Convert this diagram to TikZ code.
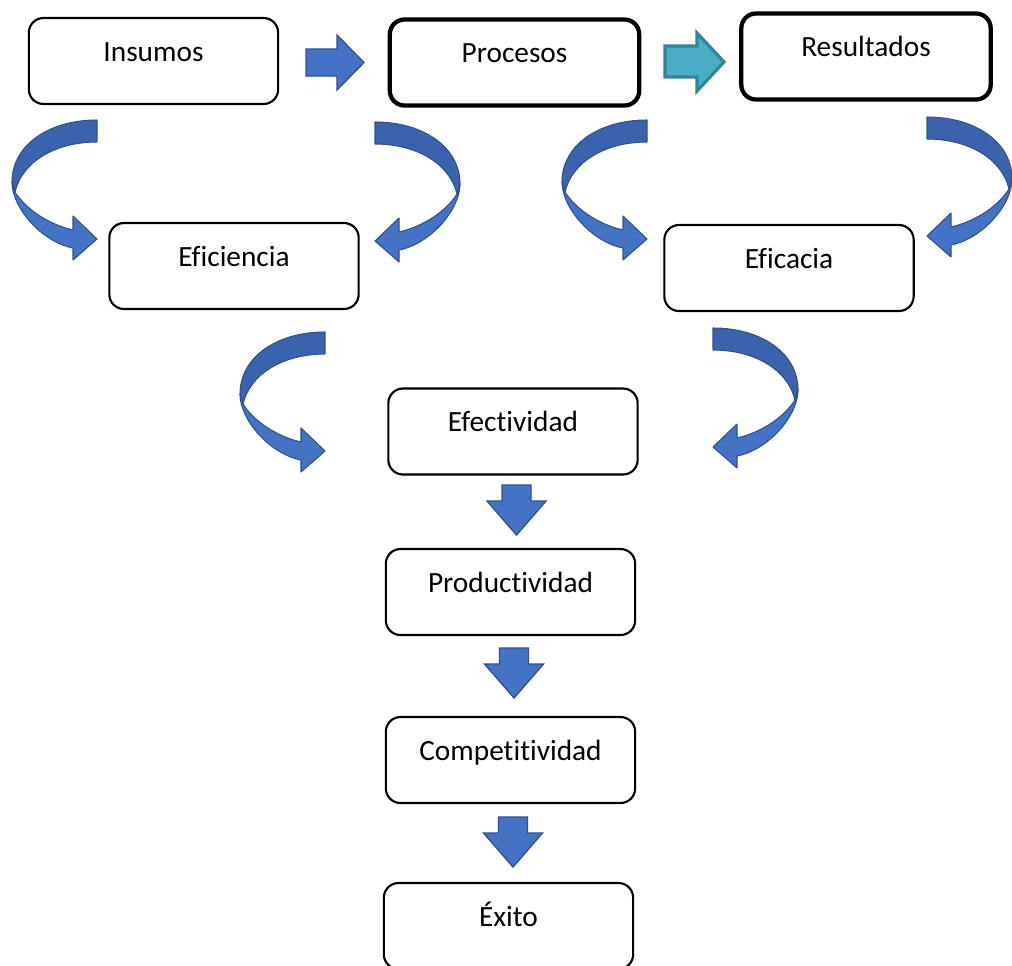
\documentclass[tikz,border=0pt]{standalone}
\usepackage{fontspec}
\setmainfont[RawFeature={-liga;-clig;-calt;-dlig}]{Carlito}
\definecolor{arrowdark}{HTML}{3A62AD}
\definecolor{arrowlight}{HTML}{4472C4}
\definecolor{arrowline}{HTML}{2F528F}
\definecolor{tealfill}{HTML}{4BACC6}
\definecolor{tealline}{HTML}{31849B}
\tikzset{
  box/.style={draw=black, line width=1.6pt, rounded corners=11pt,
    minimum width=187pt, minimum height=64.5pt, inner sep=0pt,
    text height=15pt, text depth=15pt, font=\fontsize{22}{26}\selectfont},
  boldbox/.style={box, line width=3.2pt},
  ribbon/.style={draw=arrowline, line width=0.8pt, line join=round},
  blockarrow/.style={fill=arrowlight, draw=arrowline, line width=1pt, line join=miter},
  tealarrow/.style={fill=tealfill, draw=tealline, line width=2.4pt, line join=miter},
  % curved ribbon arrow: tail at the origin, bending left, head pointing right
  pics/bend arrow/.style={code={
    \path[ribbon, fill=arrowdark]
      (0,0) .. controls (-48,0) and (-85,25) .. (-85,62) -- (-82,72)
      .. controls (-75,42) and (-42,22) .. (0,22) -- cycle;
    \path[ribbon, fill=arrowlight]
      (-85,62) .. controls (-85,88) and (-55,122) .. (-24,128)
      -- (-24,140) -- (0,119) -- (-24,96) -- (-24,110)
      .. controls (-50,104) and (-72,88) .. (-82,72) -- cycle;
  }},
  % straight block arrow pointing down, top edge of the shaft at the origin
  pics/down arrow/.style={code={
    \path[blockarrow]
      (-14.5,0) -- (14.5,0) -- (14.5,16) -- (29.5,16) -- (0,50)
      -- (-29.5,16) -- (-14.5,16) -- cycle;
  }}
}
\begin{document}
\begin{tikzpicture}[x=0.75pt, y=-0.75pt]
\useasboundingbox (0,0) rectangle (1012,965);
\clip (0,0) rectangle (1012,965);

% boxes
\node[box]      (insumos)    at (153.5,61)   {Insumos};
\node[boldbox]  (procesos)   at (514.5,62.5) {Procesos};
\node[boldbox]  (resultados) at (866,56.5)   {Resultados};
\node[box]      (eficiencia) at (234,266)    {Eficiencia};
\node[box]      (eficacia)   at (789,268)    {Eficacia};
\node[box]      (efectividad) at (513,431.5) {Efectividad};
\node[box]      (productividad) at (510.5,592) {Productividad};
\node[box]      (competitividad) at (510.5,760) {Competitividad};
\node[box]      (exito)      at (508.5,926)  {Éxito};

% straight arrows along the top row
\path[blockarrow]
  (306,49) -- (337,49) -- (337,35) -- (364,62.5) -- (337,90) -- (337,76) -- (306,76) -- cycle;
\path[tealarrow]
  (665,46) -- (697,46) -- (697,33) -- (724,62) -- (697,91) -- (697,77) -- (665,77) -- cycle;

% curved arrows
\pic at (97,120) {bend arrow};
\pic[xscale=-1] at (375,122) {bend arrow};
\pic at (647,120) {bend arrow};
\pic[xscale=-1] at (927,117) {bend arrow};
\pic at (325,332) {bend arrow};
\pic[xscale=-1] at (713,328) {bend arrow};

% arrows down the column
\pic at (516.5,485) {down arrow};
\pic at (514,648) {down arrow};
\pic at (513,817) {down arrow};
\end{tikzpicture}
\end{document}
